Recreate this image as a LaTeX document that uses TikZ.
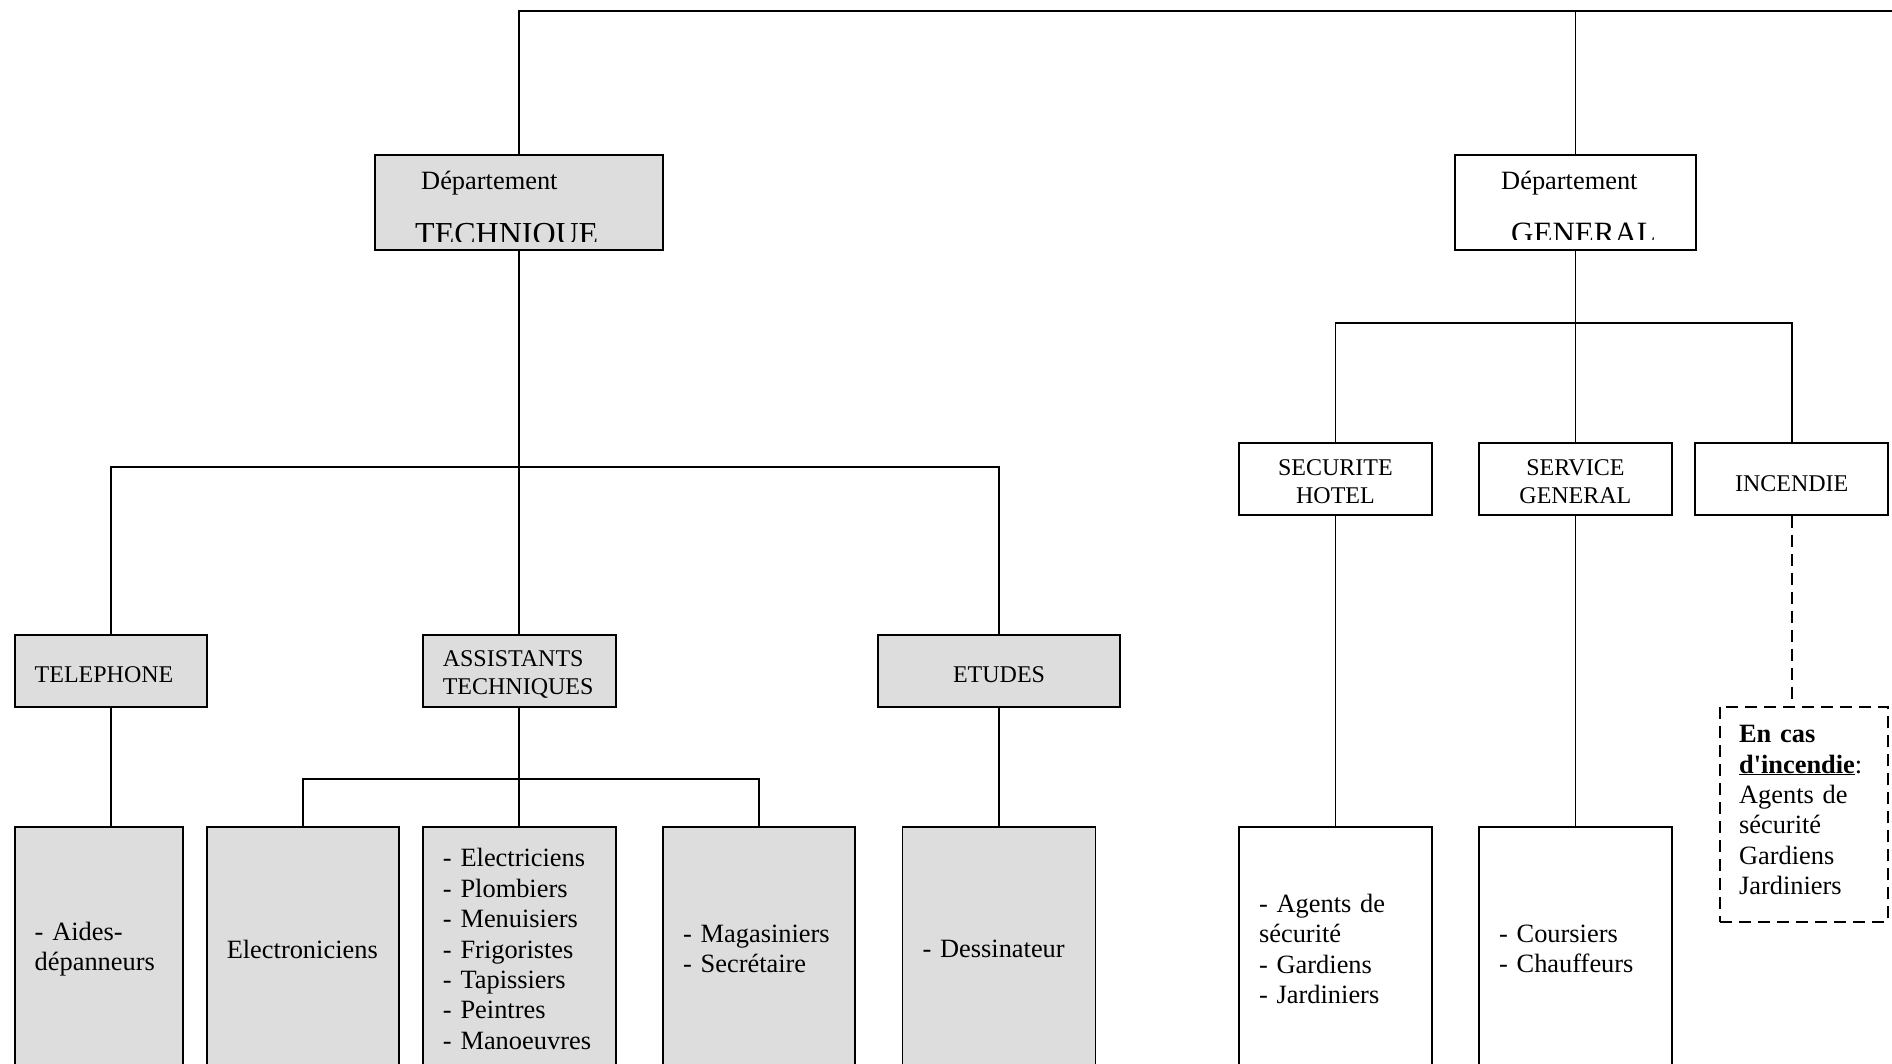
\documentclass[tikz,border=0pt]{standalone}
\usepackage{fontspec}
\setmainfont{Liberation Serif}[Ligatures=TeXOff]
\definecolor{boxgrey}{RGB}{221,221,221}
\tikzset{>=stealth,
  unit/.style={draw, line width=1.8pt, inner sep=0pt, font=\fontsize{24}{27.6}\selectfont},
  greyunit/.style={unit, fill=boxgrey},
  staff/.style={inner xsep=20pt, align=left, minimum height=244pt, font=\fontsize{26.4}{30.4}\selectfont},
  head/.style={anchor=base west, inner sep=0pt, font=\fontsize{26.4}{30.4}\selectfont},
  bighead/.style={anchor=base west, inner sep=0pt, font=\fontsize{32}{37}\selectfont},
  link/.style={line width=1.8pt},
  dashlink/.style={line width=1.8pt, dash pattern=on 12pt off 7pt}}

\begin{document}
\begin{tikzpicture}[x=1pt, y=-1pt]
\useasboundingbox (0,0) rectangle (1892,1064);
\clip (0,0) rectangle (1892,1064);
\node[greyunit, minimum width=288pt, minimum height=95.3pt] (tech) at (519.3,202.4) {};
\node[unit, minimum width=241.3pt, minimum height=95.3pt] (gen) at (1575.4,202.4) {};
\node[head] (techA) at (421,190) {Département};
\node[head] (genA) at (1501,190) {Département};
\begin{scope}
\clip (376,156) rectangle (662,241.7);
\node[bighead] (techB) at (415,244.5) {TECHNIQUE};
\end{scope}
\begin{scope}
\clip (1456,156) rectangle (1694,239.3);
\node[bighead, font=\fontsize{31}{36}\selectfont] (genB) at (1511,243.5) {GENERAL};
\end{scope}
\node[greyunit, text width=152.6pt, inner xsep=20pt, align=left, minimum height=72.6pt, text height=23.4pt, text depth=0pt] (tel) at (111,671) {TELEPHONE};
\node[greyunit, text width=153pt, inner xsep=20pt, align=left, minimum height=72.6pt, text height=24pt, text depth=32.6pt] (ast) at (519.3,671) {ASSISTANTS\\TECHNIQUES};
\node[greyunit, minimum width=241.3pt, minimum height=72.6pt, text height=23.4pt, text depth=0pt] (etu) at (999,671) {ETUDES};
\node[unit, minimum width=192.7pt, minimum height=71.7pt, align=center, text height=48.2pt, text depth=0pt] (sec) at (1335.4,479.2) {SECURITE\\HOTEL};
\node[unit, minimum width=192.7pt, minimum height=71.7pt, align=center, text height=48.2pt, text depth=0pt] (ser) at (1575.4,479.2) {SERVICE\\GENERAL};
\node[unit, minimum width=192.7pt, minimum height=71.7pt, text height=23.6pt, text depth=0pt] (inc) at (1791.7,479.2) {INCENDIE};
\node[greyunit, staff, text width=128.6pt] (aid) at (99,949) {- Aides-\\dépanneurs};
\node[greyunit, staff, text width=152.3pt] (elo) at (302.9,949) {Electroniciens};
\node[greyunit, staff, text width=152.7pt] (ele) at (519.3,949) {- Electriciens\\- Plombiers\\- Menuisiers\\- Frigoristes\\- Tapissiers\\- Peintres\\- Manoeuvres};
\node[greyunit, staff, text width=152.3pt] (mag) at (759.2,949) {- Magasiniers\\- Secrétaire};
\node[greyunit, staff, text width=153pt] (des) at (999,949) {- Dessinateur};
\node[unit, staff, text width=152.7pt] (age) at (1335.4,949) {- Agents de\\sécurité\\- Gardiens\\- Jardiniers};
\node[unit, staff, text width=152.7pt] (cou) at (1575.4,949) {- Coursiers\\- Chauffeurs};
\node[unit, dashlink, text width=129.7pt, inner xsep=19pt, align=left, minimum height=215pt, text height=17pt, text depth=160.2pt, font=\fontsize{26.4}{30.4}\selectfont] (cas) at (1803.9,814.2) {\textbf{En cas}\\\textbf{\underline{d'incendie}}:\\Agents de\\sécurité\\Gardiens\\Jardiniers};
\coordinate (topend) at (1900,11);
\coordinate (techbus) at (519.3,467);
\coordinate (astbus) at (519.3,779.3);
\coordinate (genbus) at (1575.4,322.7);
\draw[link] (tech.north) |- (topend);
\draw[link] (gen.north) -- (gen.north |- topend);
\draw[link] (tech.south) -- (ast.north);
\draw[link] (tel.north) |- (techbus) -| (etu.north);
\draw[link] (tel.south) -- (tel.south |- aid.north);
\draw[link] (ast.south) -- (ele.north);
\draw[link] (elo.north) |- (astbus) -| (mag.north);
\draw[link] (etu.south) -- (des.north);
\draw[link] (gen.south) -- (ser.north);
\draw[link] (sec.north) |- (genbus) -| (inc.north);
\draw[link] (sec.south) -- (age.north);
\draw[link] (ser.south) -- (cou.north);
\draw[dashlink] (inc.south) -- (inc.south |- cas.north);
\end{tikzpicture}
\end{document}
